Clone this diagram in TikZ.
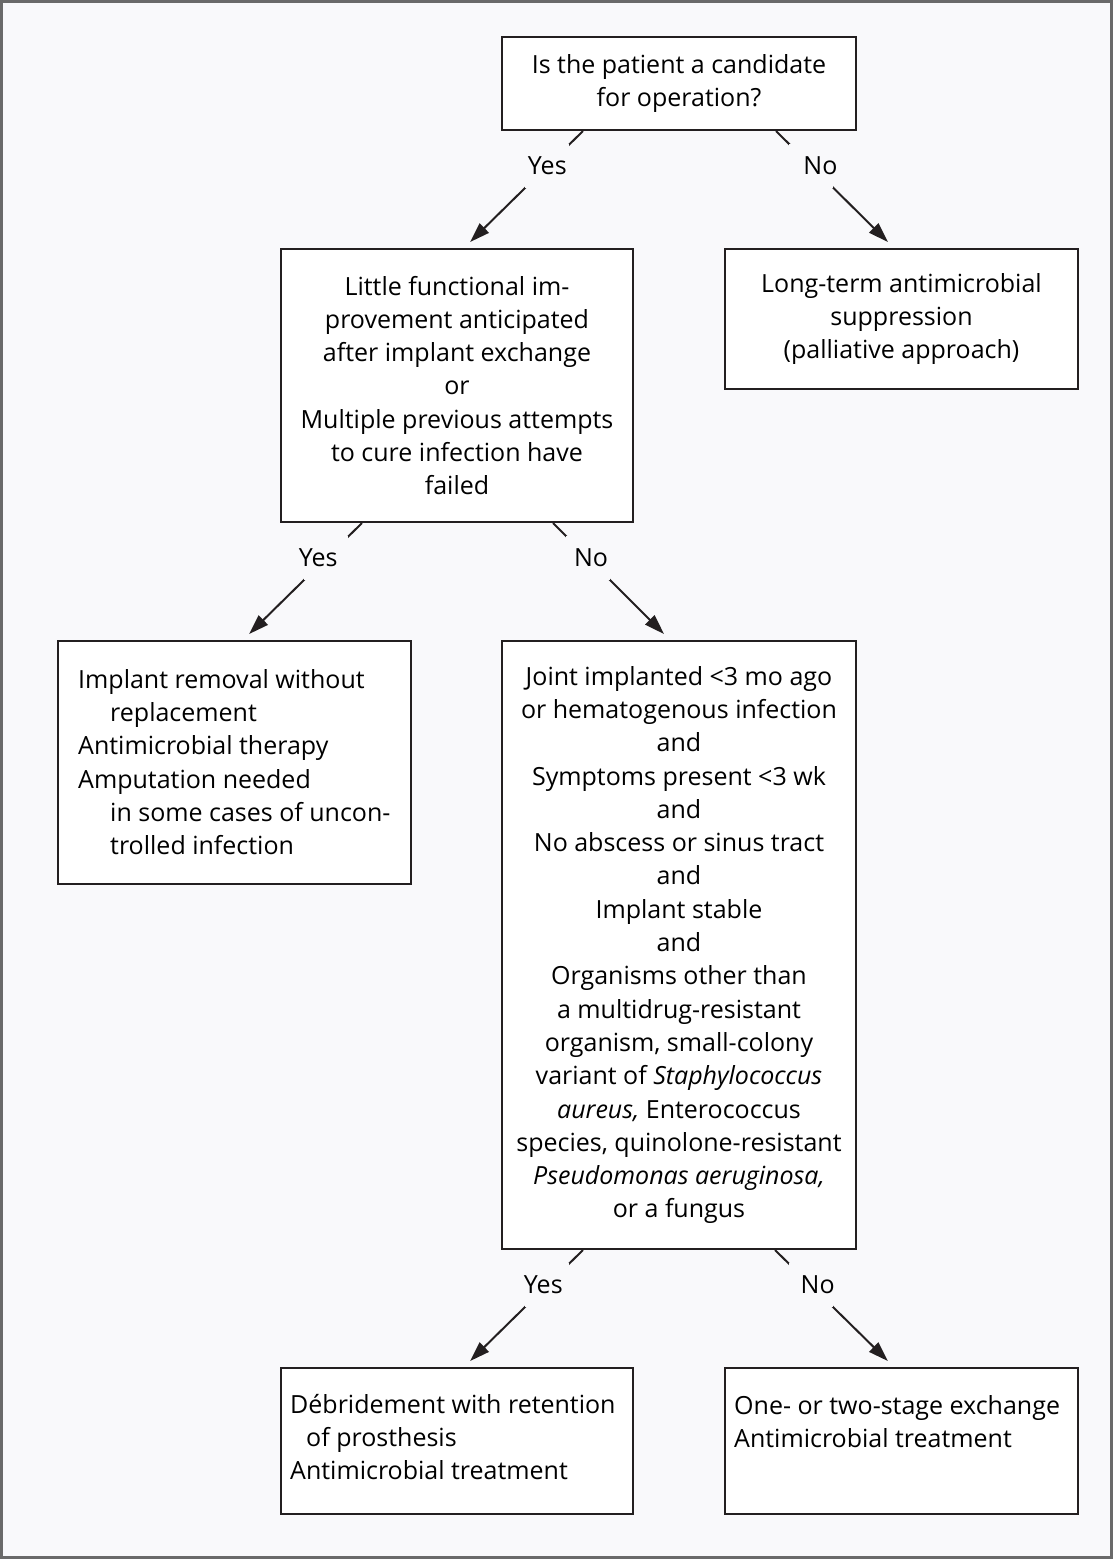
\documentclass[tikz,border=0pt]{standalone}
\usepackage{fontspec}
\setmainfont{Open Sans}
\usetikzlibrary{arrows.meta}
\definecolor{bg}{HTML}{F9F9FB}
\definecolor{frame}{HTML}{6A6A6A}
\definecolor{ink}{HTML}{231F20}
\newcommand\fs{\fontsize{25}{33.3}\selectfont}
\newcommand\shiftlbl[2]{\makebox[0pt]{\hspace*{#1}#2}}
\begin{document}
\begin{tikzpicture}[x=1pt,y=-1pt,
  box/.style={draw=ink, line width=2pt, fill=white, inner sep=0pt, align=center, font=\fs},
  txt/.style={inner sep=0pt, align=left, font=\fs},
  arr/.style={draw=ink, line width=2pt, -{Triangle[length=20pt,width=13pt]}, shorten >=8.5pt},
  lbl/.style={fill=bg, inner sep=0pt, minimum width=44pt, minimum height=44pt, font=\fs}]
\useasboundingbox (0,0) rectangle (1113,1559);
\fill[bg] (0,0) rectangle (1113,1559);
\draw[frame, line width=3pt] (1.5,1.5) rectangle (1111.5,1557.5);

\node[box, minimum width=354pt, minimum height=93pt] (b1) at (679,83.5)
  {Is the patient a candidate\\for operation?};
\node[box, minimum width=352pt, minimum height=273pt] (b2) at (457,385.5)
  {Little functional im-\\provement anticipated\\after implant exchange\\or\\Multiple previous attempts\\to cure infection have\\failed};
\node[box, minimum width=353pt, minimum height=140pt] (b3) at (901.5,319)
  {Long-term antimicrobial\\suppression\\(palliative approach)};
\node[box, minimum width=353pt, minimum height=243pt] (b4) at (234.5,762.5) {};
\node[txt, anchor=north west] (t4) at ([xshift=21pt,yshift=-29pt]b4.north west)
  {Implant removal without\\\hspace*{32pt}replacement\\Antimicrobial therapy\\Amputation needed\\\hspace*{32pt}in some cases of uncon-\\\hspace*{32pt}trolled infection};
\node[box, minimum width=354pt, minimum height=608pt] (b5) at (679,945)
  {Joint implanted <3 mo ago\\or hematogenous infection\\and\\Symptoms present <3 wk\\and\\No abscess or sinus tract\\and\\Implant stable\\and\\Organisms other than\\a multidrug-resistant\\organism, small-colony\\variant of \textit{Staphylococcus}\\\textit{aureus,} Enterococcus\\species, quinolone-resistant\\\textit{Pseudomonas aeruginosa,}\\or a fungus};
\node[box, minimum width=352pt, minimum height=146pt] (b6) at (457,1441) {};
\node[txt, anchor=north west] (t6) at ([xshift=10pt,yshift=-27pt]b6.north west)
  {Débridement with retention\\\hspace*{16pt}of prosthesis\\Antimicrobial treatment};
\node[box, minimum width=353pt, minimum height=146pt] (b7) at (901.5,1441) {};
\node[txt, anchor=north west] (t7) at ([xshift=10pt,yshift=-28pt]b7.north west)
  {One- or two-stage exchange\\Antimicrobial treatment};

\draw[arr] ([xshift=-96pt]b1.south) -- node[lbl,pos=0.3]{Yes} ([xshift=7pt]b2.north);
\draw[arr] ([xshift=97pt]b1.south) -- node[lbl,pos=0.3]{\shiftlbl{18pt}{No}} ([xshift=-7.5pt]b3.north);
\draw[arr] ([xshift=-95pt]b2.south) -- node[lbl,pos=0.3]{\shiftlbl{-16pt}{Yes}} ([xshift=8.5pt]b4.north);
\draw[arr] ([xshift=96pt]b2.south) -- node[lbl,pos=0.3]{\shiftlbl{6pt}{No}} ([xshift=-9pt]b5.north);
\draw[arr] ([xshift=-96pt]b5.south) -- node[lbl,pos=0.3]{\shiftlbl{-8pt}{Yes}} ([xshift=7pt]b6.north);
\draw[arr] ([xshift=96pt]b5.south) -- node[lbl,pos=0.3]{\shiftlbl{14pt}{No}} ([xshift=-7.5pt]b7.north);
\end{tikzpicture}
\end{document}
